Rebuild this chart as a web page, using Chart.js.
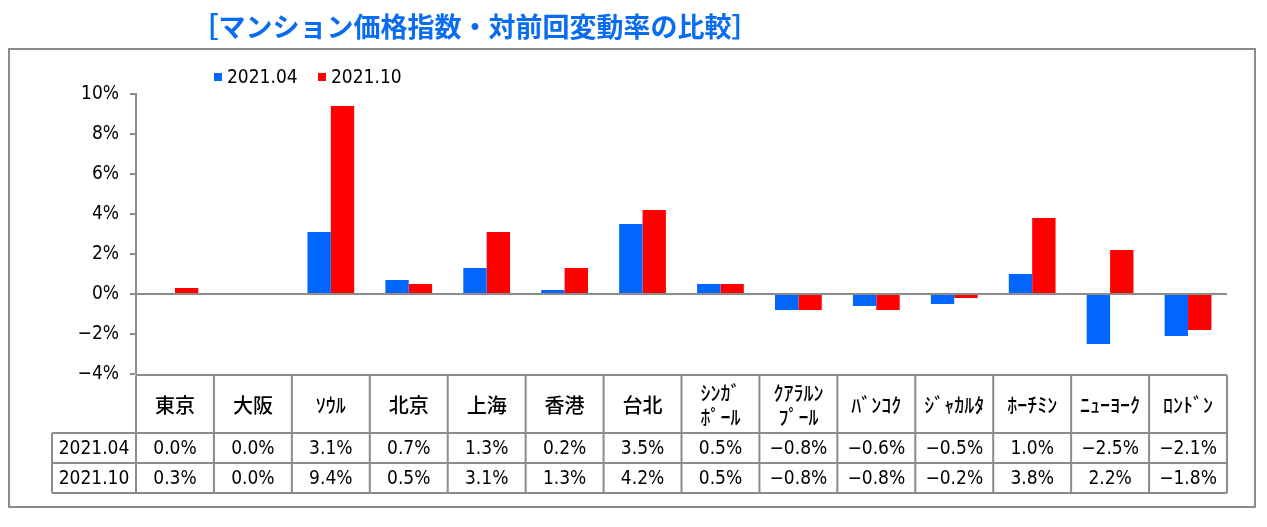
<!DOCTYPE html>
<html><head><meta charset="utf-8">
<script src="https://cdn.jsdelivr.net/npm/chart.js@4/dist/chart.umd.min.js"></script>
<style>html,body{margin:0;padding:0;background:#fff;overflow:hidden}canvas{display:block}</style>
</head><body><canvas id="c" width="1267" height="527"></canvas>
<script>
const chartTitle = '［マンション価格指数・対前回変動率の比較］';
const categories = [['東京'],['大阪'],['ｿｳﾙ'],['北京'],['上海'],['香港'],['台北'],['ｼﾝｶﾞ','ﾎﾟｰﾙ'],['ｸｱﾗﾙﾝ','ﾌﾟｰﾙ'],['ﾊﾞﾝｺｸ'],['ｼﾞｬｶﾙﾀ'],['ﾎｰﾁﾐﾝ'],['ﾆｭｰﾖｰｸ'],['ﾛﾝﾄﾞﾝ']];
const seriesNames = ['2021.04', '2021.10'];
const values202104 = [0.0, 0.0, 3.1, 0.7, 1.3, 0.2, 3.5, 0.5, -0.8, -0.6, -0.5, 1.0, -2.5, -2.1];
const values202110 = [0.3, 0.0, 9.4, 0.5, 3.1, 1.3, 4.2, 0.5, -0.8, -0.8, -0.2, 3.8, 2.2, -1.8];
const yMin = -4, yMax = 10, yStep = 2;
const seriesColors = ['#0066FF', '#FF0000'];

const NARROW = "'Liberation Sans Narrow','DejaVu Sans Condensed','Liberation Sans',sans-serif";
const CJK = "'Noto Sans CJK JP',sans-serif";
const LINE = '#8c8c8c';

function fmtPct(v, dec) {
  return (v < 0 ? '\u2212' : '') + Math.abs(v).toFixed(dec) + '%';
}

const decorPlugin = {
  id: 'decor',
  beforeDraw(chart) {
    const ctx = chart.ctx;
    ctx.save();
    ctx.fillStyle = '#fff';
    ctx.fillRect(0, 0, chart.width, chart.height);
    ctx.strokeStyle = LINE;
    ctx.lineWidth = 2;
    ctx.strokeRect(9, 49, 1246, 458);
    // title
    ctx.fillStyle = '#0A6CF0';
    ctx.font = "bold 27px " + CJK;
    ctx.textAlign = 'center';
    ctx.textBaseline = 'middle';
    ctx.fillText(chartTitle, 475, 27);
    ctx.restore();
  },
  afterDraw(chart) {
    const ctx = chart.ctx;
    const xs = chart.scales.x;
    const area = chart.chartArea;
    const n = categories.length;
    const w = (area.right - area.left) / n;
    ctx.save();
    // legend
    const legendX = [214, 318];
    ctx.textAlign = 'left';
    ctx.textBaseline = 'middle';
    ctx.font = "19px " + NARROW;
    chart.data.datasets.forEach((ds, i) => {
      ctx.fillStyle = ds.backgroundColor;
      ctx.fillRect(legendX[i], 73, 8, 8);
      ctx.fillStyle = '#000';
      ctx.fillText(ds.label, legendX[i] + 13, 78);
    });
    // data table
    const top = area.bottom + 1, hb = 433, r1 = 463, bot = 493, lx = 52;
    ctx.strokeStyle = LINE;
    ctx.lineWidth = 2;
    ctx.beginPath();
    ctx.moveTo(area.left, top); ctx.lineTo(area.right, top);
    [hb, r1, bot].forEach(y => { ctx.moveTo(lx, y); ctx.lineTo(area.right, y); });
    ctx.moveTo(lx, hb); ctx.lineTo(lx, bot);
    for (let i = 0; i <= n; i++) {
      const x = area.left + i * w;
      ctx.moveTo(x, top); ctx.lineTo(x, bot);
    }
    ctx.stroke();
    ctx.fillStyle = '#000';
    ctx.textAlign = 'center';
    ctx.textBaseline = 'middle';
    // header
    ctx.font = "500 20px " + CJK;
    chart.data.labels.forEach((lab, i) => {
      const cx = xs.getPixelForValue(i);
      const lines = Array.isArray(lab) ? lab : [lab];
      const cy = (top + hb) / 2;
      if (lines.length === 1) {
        ctx.fillText(lines[0], cx, cy + 1);
      } else {
        ctx.fillText(lines[0], cx, cy - 11);
        ctx.fillText(lines[1], cx, cy + 13);
      }
    });
    // rows
    ctx.font = "19px " + NARROW;
    const rowY = [(hb + r1) / 2 + 1, (r1 + bot) / 2 + 1];
    chart.data.datasets.forEach((ds, j) => {
      ctx.fillText(ds.label, (lx + area.left) / 2, rowY[j]);
      ds.data.forEach((v, i) => {
        ctx.fillText(fmtPct(v, 1), xs.getPixelForValue(i), rowY[j]);
      });
    });
    ctx.restore();
  }
};

new Chart(document.getElementById('c'), {
  type: 'bar',
  data: {
    labels: categories,
    datasets: [
      { label: seriesNames[0], data: values202104, backgroundColor: seriesColors[0] },
      { label: seriesNames[1], data: values202110, backgroundColor: seriesColors[1] }
    ]
  },
  options: {
    responsive: false,
    animation: false,
    devicePixelRatio: 1,
    layout: { padding: { top: 94, bottom: 153, left: 0, right: 40 } },
    datasets: { bar: { categoryPercentage: 0.6, barPercentage: 1.0 } },
    plugins: { legend: { display: false }, title: { display: false }, tooltip: { enabled: false } },
    scales: {
      x: { display: false },
      y: {
        min: yMin, max: yMax,
        afterFit: s => { s.width = 136; },
        border: { display: true, color: LINE, width: 2 },
        grid: {
          drawOnChartArea: true,
          color: c => (c.tick && c.tick.value === 0 ? LINE : 'rgba(0,0,0,0)'),
          lineWidth: c => (c.tick && c.tick.value === 0 ? 2 : 0),
          tickColor: LINE,
          tickLength: 6,
          tickWidth: 2
        },
        ticks: {
          stepSize: yStep,
          padding: 11,
          color: '#000',
          font: { family: NARROW, size: 19 },
          callback: v => fmtPct(v, 0)
        }
      }
    }
  },
  plugins: [decorPlugin]
});
</script>
</body></html>
